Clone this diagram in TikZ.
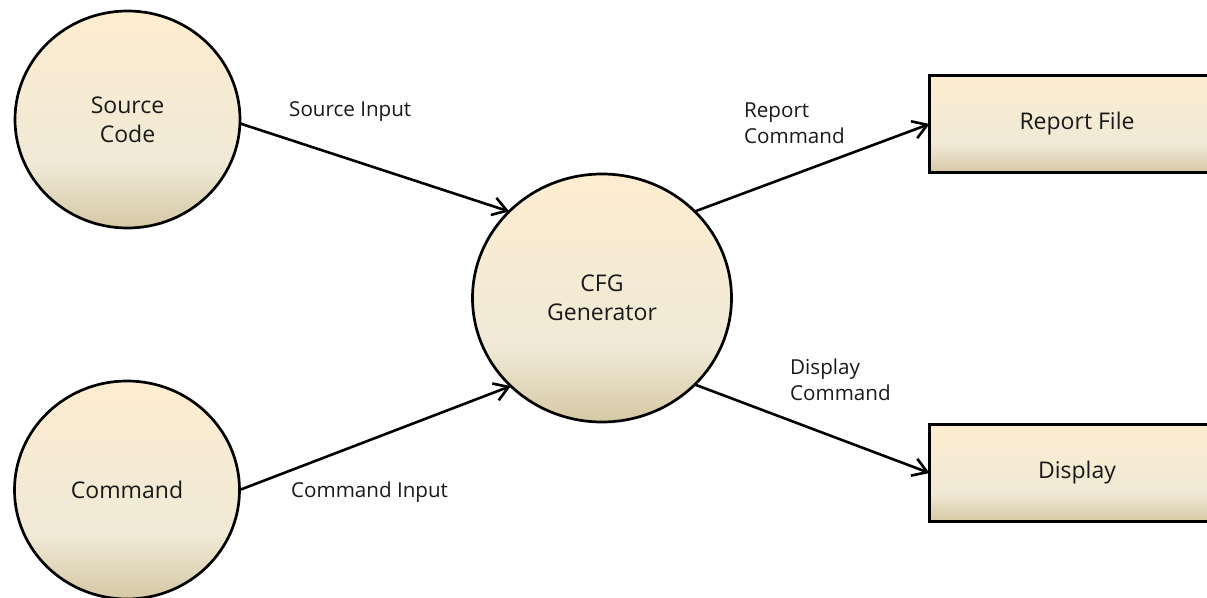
\documentclass[tikz,border=0pt]{standalone}
\usepackage{fontspec}
\setmainfont{Open Sans}
\usetikzlibrary{shapes.geometric,arrows.meta}
\definecolor{creamtop}{RGB}{253,237,208}
\definecolor{creammid}{RGB}{240,233,214}
\definecolor{creambot}{RGB}{213,200,164}
\pgfdeclareverticalshading{cream}{100bp}{color(0bp)=(creambot); color(25bp)=(creambot); color(40bp)=(creammid); color(75bp)=(creamtop); color(100bp)=(creamtop)}
\tikzset{
  proc/.style={ellipse, draw=black, line width=2.7pt, shading=cream, inner sep=0pt, outer sep=0pt,
    align=center, font=\fontsize{23}{29}\selectfont, text=black!90},
  store/.style={rectangle, draw=black, line width=2.7pt, shading=cream, inner sep=0pt, outer sep=0pt,
    minimum width=295pt, minimum height=97pt, font=\fontsize{23}{29}\selectfont, text=black!90},
  flow/.style={line width=2.6pt, line join=round, line cap=round, -{Straight Barb[length=14pt,width=18pt,line width=2.6pt]}},
  lbl/.style={inner sep=0pt, align=left, anchor=base west, font=\fontsize{20.6}{25.5}\selectfont, text=black!90}
}
\begin{document}
\begin{tikzpicture}[x=1pt,y=-1pt]
\useasboundingbox (0,0) rectangle (1207,597);
\clip (0,0) rectangle (1207,597);
\node[proc, minimum width=225pt, minimum height=217pt] (src) at (127.5,119.5) {Source\\Code};
\node[proc, minimum width=225pt, minimum height=218pt] (cmd) at (127,490) {Command};
\node[proc, minimum width=259pt, minimum height=248pt] (cfg) at (602,298) {CFG\\Generator};
\node[store] (rep) at (1077,124) {Report File};
\node[store] (disp) at (1077,473) {Display};
\draw[flow] (src.-2) -- (cfg.137);
\draw[flow] (cmd.east) -- (cfg.224);
\draw[flow] (cfg.43.4) -- (rep.west);
\draw[flow] (cfg.-43.5) -- (disp.west);
\node[lbl] (l1) at (289,116.5) {Source Input};
\node[lbl] (l2) at (291,497) {Command Input};
\node[lbl] (l3) at (744,143) {Report\\Command};
\node[lbl] (l4) at (790,400) {Display\\Command};
\end{tikzpicture}
\end{document}
